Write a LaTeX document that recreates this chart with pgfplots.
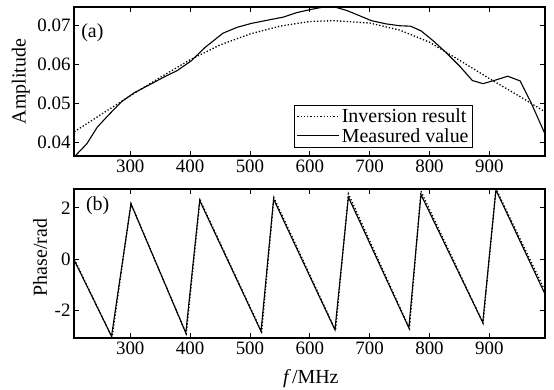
\documentclass[border=0pt]{standalone}
\usepackage{fontspec}
\setmainfont{Liberation Serif}
\usepackage{pgfplots}
\pgfplotsset{compat=1.18}
\begin{document}
\begin{tikzpicture}[font=\fontsize{20}{22}\selectfont]
\path[use as bounding box] (0,0) rectangle (554bp,390bp);
\pgfplotsset{common/.style={
  scale only axis, width=471bp, height=149bp,
  xmin=206, xmax=993, xtick={300,400,...,900},
  tick align=inside, tick pos=both, major tick length=5bp,
  axis line style={line width=1.1bp},
  every tick/.style={black, line width=0.8bp},
  scaled y ticks=false,
  /pgf/number format/assume math mode=true,
  tick label style={font=\fontsize{19}{22}\selectfont},
  label style={font=\fontsize{20}{22}\selectfont},
  anchor=south west,
}}
% ---------------- (a) amplitude
\begin{axis}[common, at={(74bp,234bp)},
  ymin=0.0365, ymax=0.0746,
  ytick={0.04,0.05,0.06,0.07}, yticklabels={0.04,0.05,0.06,0.07},
  ylabel={Amplitude},
  ylabel style={at={(axis description cs:-0.113,0.5)}, anchor=center},
  legend style={at={(axis description cs:0.847,0.054)}, anchor=south east,
    draw=black, line width=0.8bp, font=\fontsize{20}{22}\selectfont,
    inner sep=2bp},
  legend cell align=left,
  legend image code/.code={\draw[#1] (0bp,0bp) -- (42bp,0bp);},
]
\addplot[black, line width=1.3bp, dotted] coordinates {
(206.6,0.0427) (250,0.0470) (300,0.0519) (350,0.0566) (400,0.0611)
(450,0.0649) (500,0.0677) (550,0.0697) (600,0.0709) (640,0.0711)
(700,0.0705) (750,0.0687) (800,0.0656) (850,0.0610) (900,0.0563)
(950,0.0518) (993,0.0478)};
\addlegendentry{Inversion result}
\addplot[black, line width=1.1bp] coordinates {
(206.6,0.0363) (227.3,0.0396) (245,0.0439) (265.7,0.0473) (286.4,0.0505)
(307,0.0527) (330.7,0.0546) (360.3,0.0570) (378,0.0583) (401.7,0.0608)
(425.3,0.0643) (454.9,0.0679) (478.5,0.0694) (502.2,0.0704) (531.7,0.0713)
(555.4,0.0720) (579,0.0732) (602.6,0.0740) (623.3,0.0746) (644,0.0745)
(661.8,0.0737) (679.5,0.0726) (703.1,0.0711) (726.8,0.0703) (750.4,0.0698)
(768.2,0.0697) (785.9,0.0685) (806.6,0.0659) (827.3,0.0630) (850.9,0.0594)
(871.6,0.0558) (889.4,0.0550) (910.1,0.0559) (930.7,0.0569) (951.4,0.0557)
(969.2,0.0503) (992.8,0.0422)};
\addlegendentry{Measured value}
\node[anchor=west] at (rel axis cs:0.008,0.83) {(a)};
\end{axis}
% ---------------- (b) phase
\begin{axis}[common, at={(74bp,52bp)},
  ymin=-3.1, ymax=2.74,
  ytick={-2,0,2}, yticklabels={-2,0,2},
  ylabel={Phase/rad},
  ylabel style={at={(axis description cs:-0.072,0.54)}, anchor=center},
  xlabel={{\itshape f}\,/MHz},
  xlabel style={at={(axis description cs:0.503,-0.275)}, anchor=center},
]
\addplot[black, line width=1.3bp, dotted] coordinates {
(206.6,-0.02) (269.5,-3.08) (301.2,2.16) (393.5,-2.93) (416.5,2.31)
(519.5,-2.86) (540,2.40) (643,-2.80) (664.5,2.55) (766.5,-2.73)
(785.7,2.65) (889.5,-2.52) (911,2.75) (993,-1.25)};
\addplot[black, line width=1.1bp] coordinates {
(206.6,-0.06) (268.7,-3.03) (301.2,2.16) (392.8,-2.90) (416,2.29)
(518.5,-2.84) (539.5,2.34) (642,-2.78) (664.5,2.42) (765.5,-2.70)
(785.7,2.52) (889,-2.49) (911,2.70) (993,-1.38)};
\node[anchor=west] at (rel axis cs:0.018,0.886) {(b)};
\end{axis}
\end{tikzpicture}
\end{document}
